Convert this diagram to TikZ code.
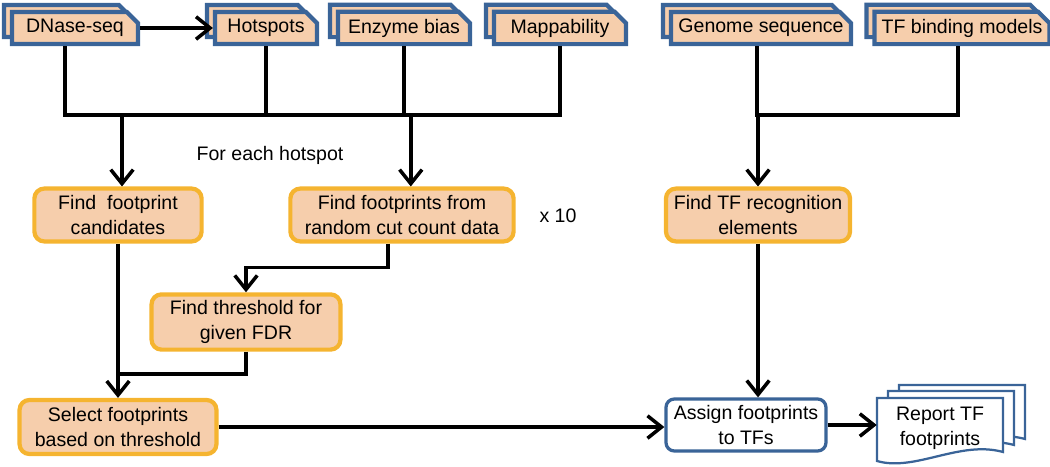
\documentclass[tikz,border=0pt]{standalone}
\usepackage{fontspec}
\setmainfont{Liberation Sans}
\usetikzlibrary{arrows.meta,shapes.misc,shadows}

\definecolor{boxtan}{RGB}{246,206,172}
\definecolor{boxorange}{RGB}{245,180,48}
\definecolor{docblue}{RGB}{58,100,152}

\tikzset{
  label font/.style={font=\fontsize{13.9}{17.8}\selectfont, align=center},
  flow/.style={line width=2.5pt, -{Straight Barb[length=10pt,width=16pt]}},
  link/.style={line width=2.5pt},
  inputbox/.style={label font, chamfered rectangle,
    chamfered rectangle corners=north east,
    chamfered rectangle xsep=4pt, chamfered rectangle ysep=4pt,
    fill=boxtan, draw=docblue, line width=3pt, inner sep=1pt,
    minimum height=0.8cm,
    copy shadow={shadow xshift=-0.2cm, shadow yshift=0.175cm,
      fill=boxtan, draw=docblue, line width=3pt}},
  stepbox/.style={label font, rectangle, rounded corners=7pt,
    fill=boxtan, draw=boxorange, line width=3pt, inner sep=2pt,
    minimum height=1.32cm},
  assignbox/.style={label font, rectangle, rounded corners=6pt,
    fill=white, draw=docblue, line width=2.3pt, inner sep=2pt,
    minimum height=1.3cm},
  docline/.style={draw=docblue, line width=1.6pt, fill=white}
}

\begin{document}
\begin{tikzpicture}[x=0.025cm, y=-0.025cm]
\useasboundingbox (0,0) rectangle (1050,466);

% Input data
\node[inputbox, minimum width=3.15cm] (dnase) at (75,28) {DNase-seq};
\node[inputbox, minimum width=2.55cm] (hotspots) at (266,28) {Hotspots};
\node[inputbox, minimum width=3.3cm] (enzyme) at (404,28) {Enzyme bias};
\node[inputbox, minimum width=3.3cm] (mapp) at (560,28) {Mappability};
\node[inputbox, minimum width=4.5cm] (genome) at (761,28) {Genome sequence};
\node[inputbox, minimum width=4.18cm] (binding) at (962,28) {TF binding models};

% Processing steps
\node[stepbox, minimum width=4.18cm] (cand) at (118,215) {Find\ \ footprint\\candidates};
\node[stepbox, minimum width=5.58cm] (random) at (402,215) {Find footprints from\\random cut count data};
\node[stepbox, minimum width=4.6cm] (tfrec) at (758,215) {Find TF recognition\\elements};
\node[stepbox, minimum width=4.72cm, minimum height=1.38cm] (fdr) at (246,322) {Find threshold for\\given FDR};
\node[stepbox, minimum width=4.92cm, minimum height=1.35cm] (select) at (118,427) {Select footprints\\based on threshold};
\node[assignbox, minimum width=4cm] (assign) at (746,425) {Assign footprints\\to TFs};

% Output document stack
\foreach \dx/\dy in {22/-13, 11/-7, 0/0}
  \draw[docline, shift={(\dx,\dy)}] (877,398) -- (1003,398) -- (1003,452)
    .. controls (960,440) and (915,472) .. (877,461) -- cycle;
\node[label font, minimum width=3.15cm, minimum height=1.4cm, inner sep=0pt] (report) at (940,428) {Report TF\\footprints};

% Labels
\node[label font] (each) at (270,155) {For each hotspot};
\node[label font] (times) at (558,216) {x 10};

% Bus lines
\coordinate (busL) at (65,115);
\coordinate (busR) at (958,115);
\coordinate (join) at (118,374);

% Connectors
\draw[flow] (dnase) -- (hotspots);
\draw[link] ([xshift=-0.25cm]dnase.south) |- (mapp.south |- busL) -- (mapp.south);
\draw[link] (hotspots.south) -- (hotspots.south |- busL);
\draw[link] (enzyme.south) -- (enzyme.south |- busL);
\draw[flow] ([xshift=0.1cm]cand.north |- busL) -- ([xshift=0.1cm]cand.north);
\draw[flow] ([xshift=0.22cm]random.north |- busL) -- ([xshift=0.22cm]random.north);
\draw[link] ([xshift=-0.1cm]genome.south) |- (busR) -- (busR |- binding.south);
\draw[flow] (tfrec.north |- busL) -- (tfrec.north);
\draw[flow] ([xshift=-0.35cm]random.south) -- ++(0,24) -| (fdr.north);
\draw[flow] (cand.south) -- (select.north);
\draw[link] (fdr.south) |- (join);
\draw[flow] (select.east) -- (select.east -| assign.west);
\draw[flow] (tfrec.south) -- (tfrec.south |- assign.north);
\draw[flow] (assign.east) -- (assign.east -| report.west);

\end{tikzpicture}
\end{document}
